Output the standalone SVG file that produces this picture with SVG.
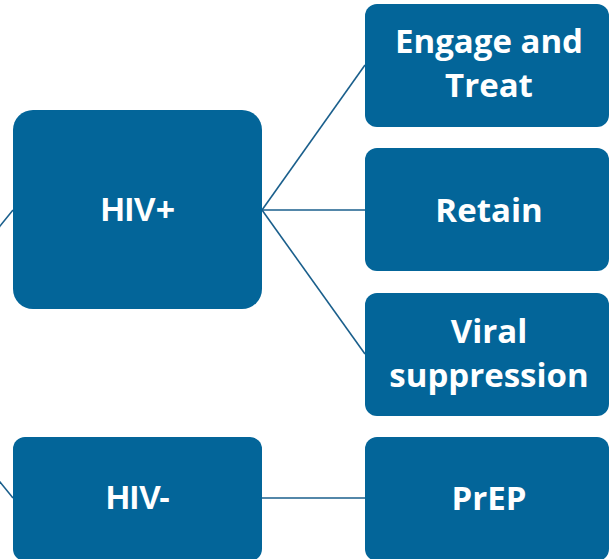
<svg xmlns="http://www.w3.org/2000/svg" width="611" height="559" viewBox="0 0 611 559">
<style>
.box{fill:#036599}
.lbl{fill:#fff;font-family:"Open Sans",sans-serif;font-weight:bold;font-size:33px;text-anchor:middle}
.lbl2{fill:#fff;font-family:"Liberation Sans",Arial,sans-serif;font-weight:bold;font-size:33px;text-anchor:middle}
.conn{stroke:#1a5f8c;stroke-width:1.6;fill:none}
</style>
<rect width="611" height="559" fill="#fff"/>
<g id="connectors">
<line class="conn" x1="-104" y1="354" x2="13" y2="210"/>
<line class="conn" x1="-104" y1="354" x2="13" y2="498"/>
<line class="conn" x1="262" y1="210" x2="365" y2="65"/>
<line class="conn" x1="262" y1="210" x2="365" y2="210"/>
<line class="conn" x1="262" y1="210" x2="365" y2="354"/>
<line class="conn" x1="262" y1="498" x2="365" y2="498"/>
</g>
<g id="hiv-pos">
<rect class="box" x="13" y="110" width="249" height="199" rx="20"/>
<text class="lbl2" x="138" y="221">HIV+</text>
</g>
<g id="hiv-neg">
<rect class="box" x="13" y="437" width="249" height="124" rx="12"/>
<text class="lbl2" x="138" y="509">HIV-</text>
</g>
<g id="engage">
<rect class="box" x="365" y="4" width="244" height="123" rx="12"/>
<text class="lbl" x="489" y="53">Engage and</text>
<text class="lbl" x="489" y="97">Treat</text>
</g>
<g id="retain">
<rect class="box" x="365" y="148" width="244" height="123" rx="12"/>
<text class="lbl" x="489" y="222">Retain</text>
</g>
<g id="viral">
<rect class="box" x="365" y="293" width="244" height="123" rx="12"/>
<text class="lbl" x="489" y="343">Viral</text>
<text class="lbl" x="489" y="387">suppression</text>
</g>
<g id="prep">
<rect class="box" x="365" y="437" width="244" height="124" rx="12"/>
<text class="lbl" x="489" y="510">PrEP</text>
</g>
</svg>
